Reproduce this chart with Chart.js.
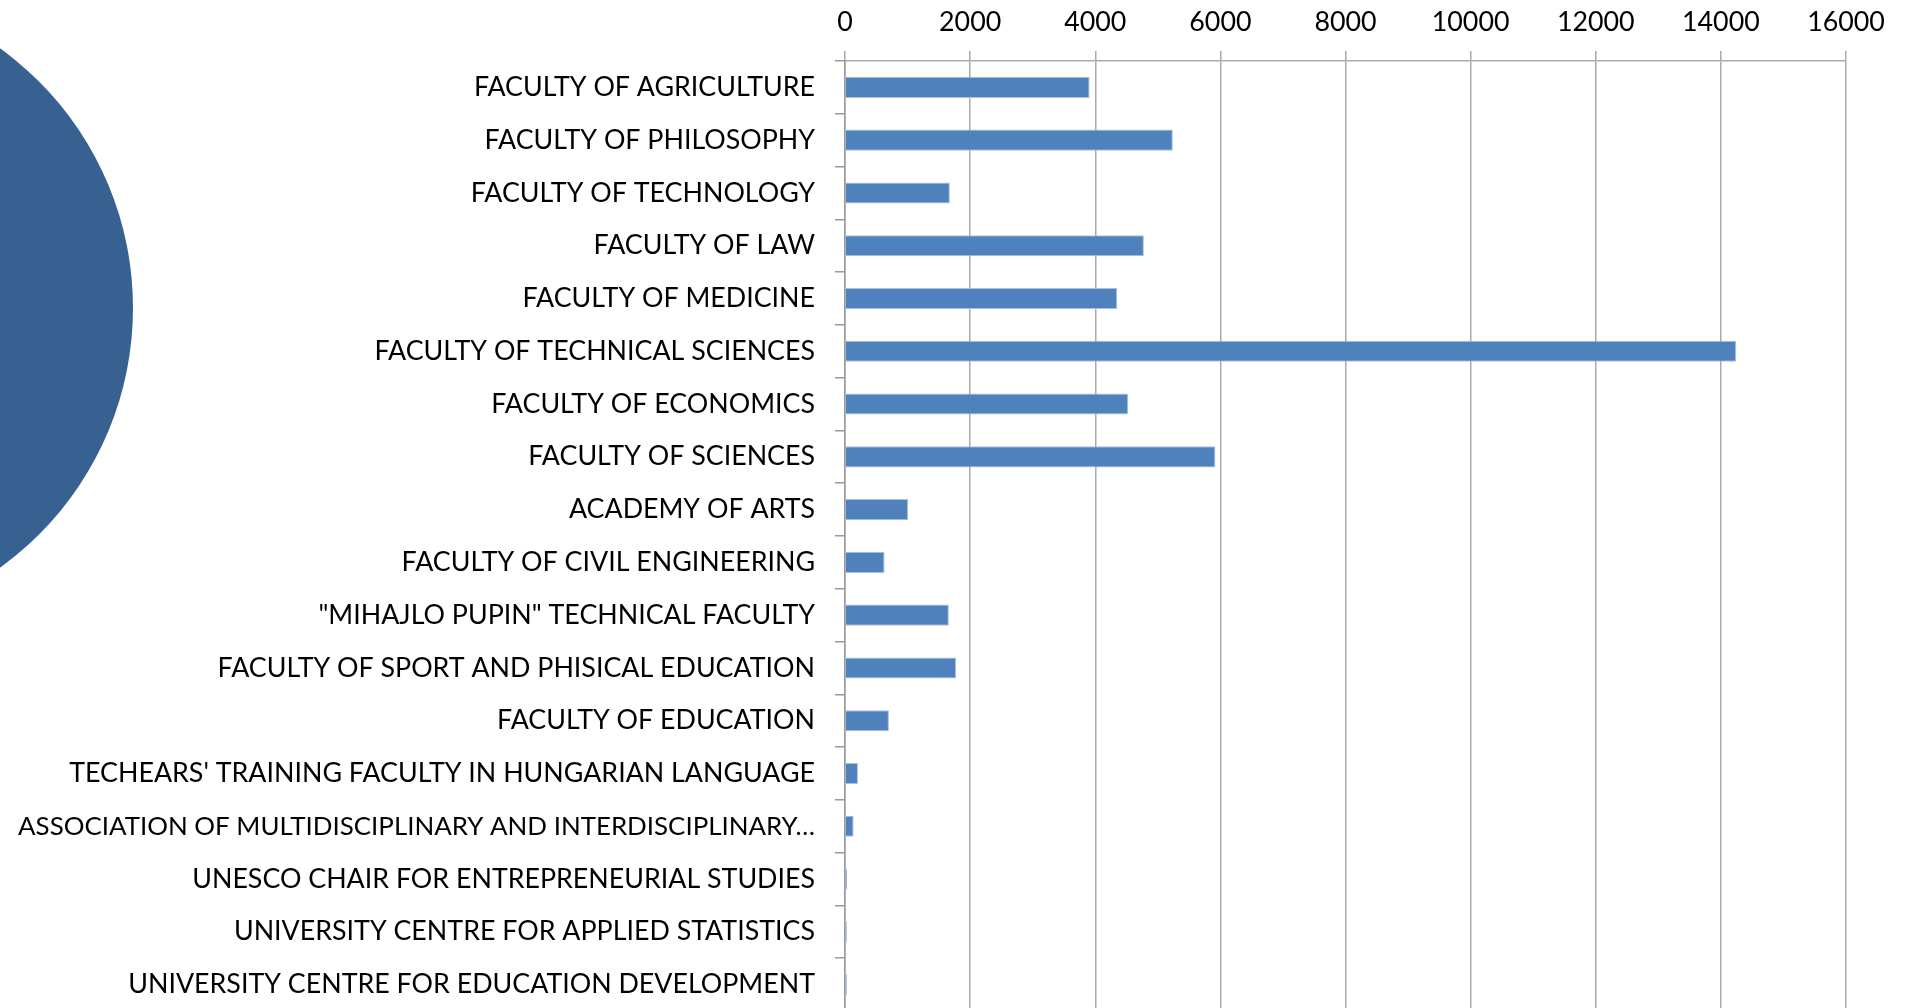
<!DOCTYPE html>
<html>
<head>
<meta charset="utf-8">
<script src="https://cdn.jsdelivr.net/npm/chart.js@4.4.1/dist/chart.umd.min.js"></script>
<style>
  html, body { margin: 0; padding: 0; background: #ffffff; overflow: hidden; width: 1914px; height: 1008px; }
  #deco { position: absolute; left: -507px; top: -12px; width: 640px; height: 640px; border-radius: 50%; background: #366190; z-index: 0; }
  #wrap { position: absolute; left: 0; top: 0; width: 1914px; height: 1011px; z-index: 1; }
</style>
</head>
<body>
<div id="deco"></div>
<div id="wrap"><canvas id="c" width="1914" height="1011"></canvas></div>
<script>
const categories = [
  "FACULTY OF AGRICULTURE",
  "FACULTY OF PHILOSOPHY",
  "FACULTY OF TECHNOLOGY",
  "FACULTY OF LAW",
  "FACULTY OF MEDICINE",
  "FACULTY OF TECHNICAL SCIENCES",
  "FACULTY OF ECONOMICS",
  "FACULTY OF SCIENCES",
  "ACADEMY OF ARTS",
  "FACULTY OF CIVIL ENGINEERING",
  "\"MIHAJLO PUPIN\" TECHNICAL FACULTY",
  "FACULTY OF SPORT AND PHISICAL EDUCATION",
  "FACULTY OF EDUCATION",
  "TECHEARS' TRAINING FACULTY IN HUNGARIAN LANGUAGE",
  "ASSOCIATION OF MULTIDISCIPLINARY AND INTERDISCIPLINARY…",
  "UNESCO CHAIR FOR ENTREPRENEURIAL STUDIES",
  "UNIVERSITY CENTRE FOR APPLIED STATISTICS",
  "UNIVERSITY CENTRE FOR EDUCATION DEVELOPMENT"
];
const students = [3910, 5240, 1676, 4777, 4352, 14246, 4528, 5921, 1011, 633, 1660, 1777, 702, 207, 138, 35, 30, 30];
const xMin = 0, xMax = 16000, xStep = 2000;

const FONT = "Lato";
new Chart(document.getElementById('c'), {
  type: 'bar',
  data: {
    labels: categories,
    datasets: [{
      data: students,
      backgroundColor: '#4F81BD',
      borderColor: '#A9C1DF',
      borderWidth: 1,
      categoryPercentage: 1.0,
      barPercentage: 0.4
    }]
  },
  options: {
    indexAxis: 'y',
    responsive: false,
    animation: false,
    events: [],
    layout: { padding: { left: 0, right: 68, top: 0, bottom: 0 } },
    plugins: { legend: { display: false }, tooltip: { enabled: false }, title: { display: false } },
    scales: {
      x: {
        position: 'top',
        min: xMin, max: xMax,
        ticks: { stepSize: xStep, color: '#000000', font: { family: FONT, size: 26.8 }, padding: 13, maxRotation: 0,
                 callback: (v) => String(v) },
        grid: { color: '#aaaaaa', lineWidth: 1.5, drawTicks: true, tickLength: 10, tickColor: '#aaaaaa' },
        border: { display: true, color: '#aaaaaa', width: 1.5 },
        afterFit: (s) => { s.height = 61; s.paddingLeft = 0; s.paddingRight = 0; }
      },
      y: {
        ticks: { color: '#000000', padding: 20, autoSkip: false,
                 font: (ctx) => ({ family: FONT, size: (ctx.index === 14 ? 25.9 : 26.8) }) },
        grid: { drawOnChartArea: false, drawTicks: true, tickLength: 10, color: '#999999', lineWidth: 1.5 },
        border: { display: true, color: '#999999', width: 1.5 },
        afterFit: (s) => { s.width = 845; s.paddingTop = 0; s.paddingBottom = 0; }
      }
    }
  }
});
</script>
</body>
</html>
